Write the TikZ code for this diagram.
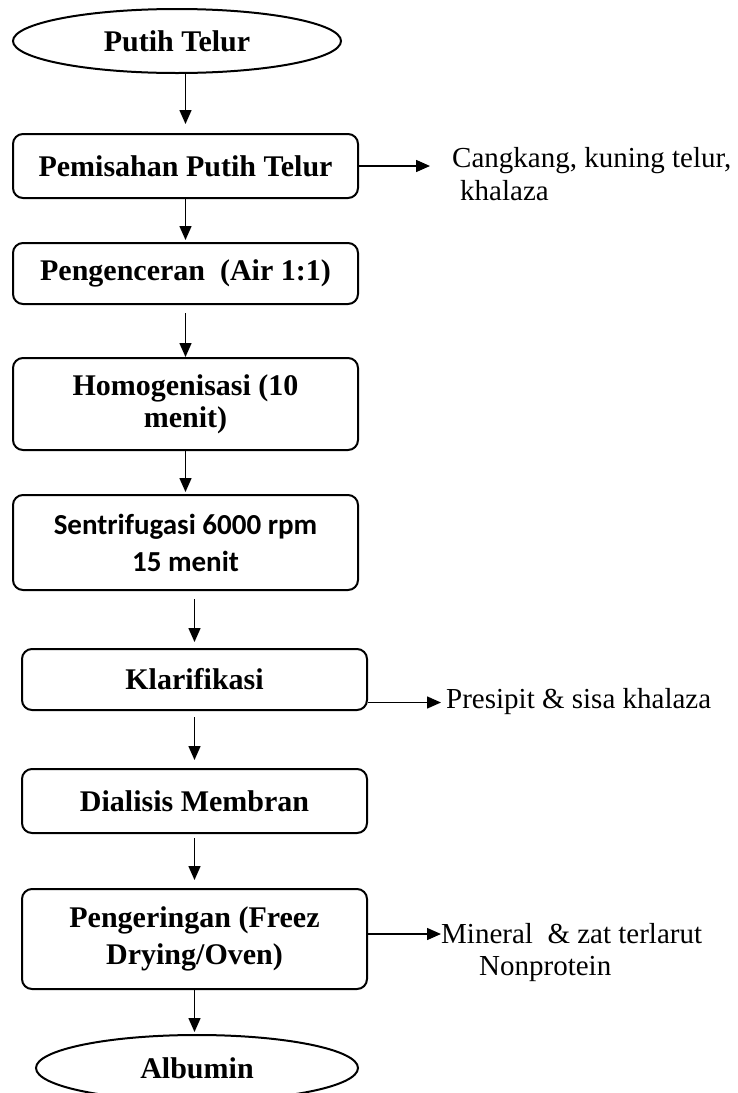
\documentclass[tikz,border=0pt]{standalone}
\usepackage{fontspec}
\setmainfont{Liberation Serif}
\newfontfamily\carlito{Carlito}
\usetikzlibrary{arrows.meta,shapes.geometric}

\tikzset{
  proses/.style={draw, line width=2pt, rounded corners=10pt, minimum width=345pt,
    align=center, inner sep=2pt, font=\fontsize{30}{35}\selectfont\bfseries},
  ujung/.style={draw, ellipse, line width=2pt, inner sep=0pt,
    font=\fontsize{30}{35}\selectfont\bfseries},
  hasil/.style={anchor=base west, align=left, inner sep=0pt,
    font=\fontsize{29}{32}\selectfont},
  panah/.style={line width=1.5pt, -{Triangle[length=14pt,width=12pt]}}
}

\begin{document}
\begin{tikzpicture}[x=1pt, y=-1pt]
    \useasboundingbox (0,0) rectangle (737,1093);

    % Start and end
    \node[ujung, minimum width=328pt, minimum height=64pt] (putih) at (177,41) {Putih Telur};
    \node[ujung, minimum width=322pt, minimum height=66pt] (albumin) at (197,1068) {Albumin};

    % Process boxes
    \node[proses, minimum height=64pt] (pemisahan) at (185.5,166) {Pemisahan Putih Telur};
    \node[proses, minimum height=61pt] (pengenceran) at (185.5,273.5) {Pengenceran\ \ (Air 1:1)};
    \node[proses, minimum height=92pt, font=\fontsize{30}{32}\selectfont\bfseries] (homogen) at (185.5,404) {Homogenisasi (10\\menit)};
    \node[proses, minimum height=95pt, font=\fontsize{29}{37}\selectfont\carlito\bfseries] (sentri) at (185.5,542.5) {Sentrifugasi 6000 rpm\\15 menit};
    \node[proses, minimum height=61pt] (klarifikasi) at (194.5,679.5) {Klarifikasi};
    \node[proses, minimum height=64pt] (dialisis) at (194.5,801) {Dialisis Membran};
    \node[proses, minimum height=100pt, font=\fontsize{30}{37}\selectfont\bfseries] (pengeringan) at (194.5,939) {Pengeringan (Freez\\Drying/Oven)};

    % Side outputs (base = last line)
    \node[hasil, font=\fontsize{29}{33}\selectfont] (sisa1) at (452,200) {Cangkang, kuning telur,\\\hspace*{8pt}khalaza};
    \node[hasil] (sisa2) at (446,708) {Presipit \& sisa khalaza};
    \node[hasil] (sisa3) at (441,975) {Mineral\ \ \& zat terlarut\\\hspace*{38pt}Nonprotein};

    % Main flow
    \draw[panah, shorten >=9pt] (pemisahan.north |- putih.south) -- (pemisahan.north);
    \draw[panah, shorten >=2pt] (pemisahan.south) -- (pengenceran.north);
    \draw[panah, shorten <=8pt] (pengenceran.south) -- (homogen.north);
    \draw[panah, shorten >=2pt] (homogen.south) -- (sentri.north);
    \draw[panah, shorten <=8pt, shorten >=6pt] (klarifikasi.north |- sentri.south) -- (klarifikasi.north);
    \draw[panah, shorten <=6pt, shorten >=8pt] (klarifikasi.south) -- (dialisis.north);
    \draw[panah, shorten <=4pt, shorten >=8pt] (dialisis.south) -- (pengeringan.north);
    \draw[panah, shorten >=2pt] (pengeringan.south) -- (pengeringan.south |- albumin.north);

    % -- waste streams
    \draw[panah, shorten >=22pt] (pemisahan.east) -- (pemisahan.east -| sisa1.west);
    \draw[panah, shorten >=5pt] ([yshift=-23pt]klarifikasi.east) -- ([yshift=-23pt]klarifikasi.east -| sisa2.west);
    \draw[panah] ([yshift=5pt]pengeringan.east) -- ([yshift=5pt]pengeringan.east -| sisa3.west);
\end{tikzpicture}
\end{document}
